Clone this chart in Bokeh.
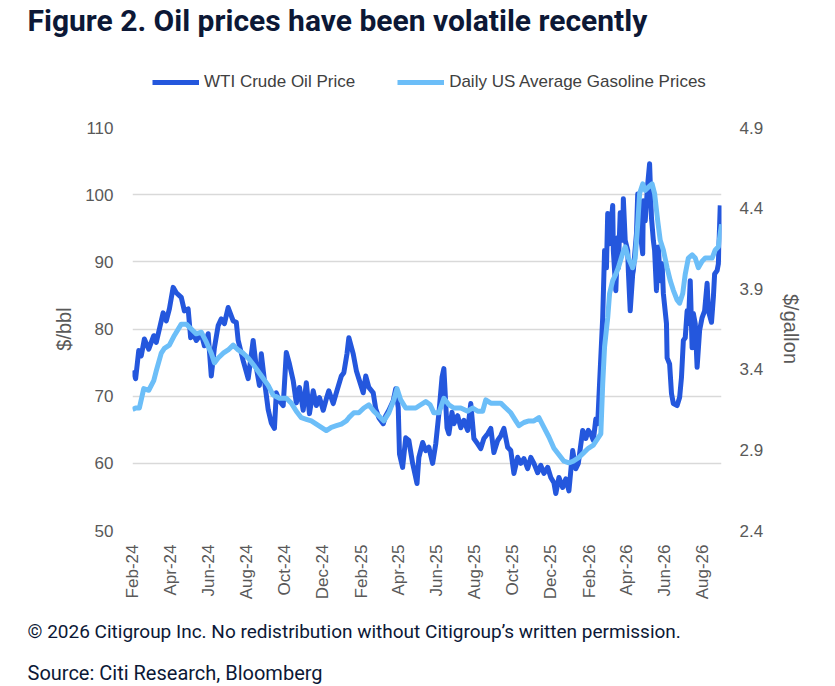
import math
import pandas as pd
from bokeh.plotting import figure
from bokeh.layouts import column
from bokeh.models import (Range1d, LinearAxis, FixedTicker, DatetimeTickFormatter,
                          Legend, LegendItem, Title, ColumnDataSource)
from bokeh.embed import file_html
from bokeh.resources import INLINE

# ---------------- data ----------------
wti_dates = [
    "2024-02-01", "2024-02-06", "2024-02-11", "2024-02-15", "2024-02-20", "2024-02-27",
    "2024-03-06", "2024-03-10", "2024-03-15", "2024-03-21", "2024-03-26", "2024-03-31",
    "2024-04-06", "2024-04-11", "2024-04-19", "2024-04-24", "2024-04-30", "2024-05-04",
    "2024-05-08", "2024-05-13", "2024-05-21", "2024-05-26", "2024-06-01", "2024-06-06",
    "2024-06-11", "2024-06-17", "2024-06-22", "2024-06-27", "2024-07-03", "2024-07-11",
    "2024-07-16", "2024-07-19", "2024-07-27", "2024-08-04", "2024-08-12", "2024-08-17",
    "2024-08-22", "2024-08-25", "2024-08-30", "2024-09-05", "2024-09-10", "2024-09-15",
    "2024-09-18", "2024-09-23", "2024-09-29", "2024-10-04", "2024-10-09", "2024-10-15",
    "2024-10-20", "2024-10-25", "2024-10-31", "2024-11-05", "2024-11-10", "2024-11-16",
    "2024-11-21", "2024-11-26", "2024-12-02", "2024-12-07", "2024-12-11", "2024-12-18",
    "2024-12-23", "2024-12-31", "2025-01-04", "2025-01-09", "2025-01-12", "2025-01-19",
    "2025-01-24", "2025-01-28", "2025-02-04", "2025-02-08", "2025-02-13", "2025-02-20",
    "2025-02-24", "2025-03-01", "2025-03-08", "2025-03-12", "2025-03-17", "2025-03-24",
    "2025-03-28", "2025-04-01", "2025-04-03", "2025-04-08", "2025-04-13", "2025-04-18",
    "2025-04-24", "2025-05-01", "2025-05-04", "2025-05-10", "2025-05-15", "2025-05-20",
    "2025-05-26", "2025-05-31", "2025-06-05", "2025-06-10", "2025-06-13", "2025-06-18",
    "2025-06-21", "2025-06-26", "2025-06-29", "2025-07-05", "2025-07-10", "2025-07-15",
    "2025-07-21", "2025-07-26", "2025-07-31", "2025-08-06", "2025-08-11", "2025-08-16",
    "2025-08-22", "2025-08-27", "2025-09-01", "2025-09-07", "2025-09-12", "2025-09-17",
    "2025-09-23", "2025-09-28", "2025-10-03", "2025-10-09", "2025-10-14", "2025-10-19",
    "2025-10-25", "2025-10-30", "2025-11-04", "2025-11-10", "2025-11-15", "2025-11-20",
    "2025-11-26", "2025-12-01", "2025-12-06", "2025-12-09", "2025-12-14", "2025-12-20",
    "2025-12-25", "2025-12-30", "2026-01-05", "2026-01-10", "2026-01-14", "2026-01-21",
    "2026-01-26", "2026-01-30", "2026-02-03", "2026-02-07", "2026-02-11", "2026-02-14",
    "2026-02-17", "2026-02-22", "2026-02-25", "2026-02-28", "2026-03-02", "2026-03-05",
    "2026-03-10", "2026-03-11", "2026-03-15", "2026-03-18", "2026-03-19", "2026-03-22",
    "2026-03-26", "2026-03-27", "2026-03-30", "2026-04-03", "2026-04-04", "2026-04-07",
    "2026-04-11", "2026-04-12", "2026-04-17", "2026-04-19", "2026-04-22", "2026-04-27",
    "2026-04-28", "2026-05-01", "2026-05-05", "2026-05-08", "2026-05-11", "2026-05-14",
    "2026-05-16", "2026-05-19", "2026-05-22", "2026-05-25", "2026-05-28", "2026-05-30",
    "2026-06-04", "2026-06-05", "2026-06-09", "2026-06-12", "2026-06-15", "2026-06-21",
    "2026-06-25", "2026-06-28", "2026-07-01", "2026-07-04", "2026-07-07", "2026-07-09",
    "2026-07-12", "2026-07-15", "2026-07-17", "2026-07-20", "2026-07-23", "2026-07-27",
    "2026-07-31", "2026-08-04", "2026-08-08", "2026-08-10", "2026-08-15", "2026-08-18",
    "2026-08-20", "2026-08-24", "2026-08-26", "2026-08-29",
]
wti_values = [
    73.8, 72.6, 76.8, 76.0, 78.5, 77.0,
    79.0, 78.0, 80.0, 82.4, 81.2, 83.0,
    86.2, 85.4, 84.7, 82.7, 83.0, 78.7,
    79.3, 78.3, 79.3, 77.5, 79.3, 73.0,
    77.2, 80.5, 81.5, 80.8, 83.2, 81.2,
    81.0, 78.3, 75.3, 72.6, 78.3, 74.3,
    71.6, 76.3, 72.3, 68.0, 66.0, 65.2,
    70.5, 69.3, 68.6, 76.5, 74.8, 72.3,
    69.0, 71.3, 67.9, 72.0, 67.4, 70.8,
    68.6, 69.8, 67.9, 69.6, 70.8, 68.9,
    70.5, 73.0, 73.5, 76.3, 78.7, 76.3,
    73.8, 72.6, 70.5, 73.0, 71.3, 70.5,
    68.1, 66.8, 65.9, 67.1, 67.9, 69.3,
    71.1, 68.3, 61.4, 59.4, 63.8, 63.4,
    60.0, 57.0, 60.9, 63.1, 61.9, 62.4,
    60.0, 62.9, 67.4, 72.8, 74.1, 65.3,
    64.4, 67.6, 65.9, 67.1, 65.3, 66.4,
    64.9, 68.9, 63.7, 62.9, 62.2, 63.7,
    64.4, 65.2, 61.6, 63.4, 64.1, 65.2,
    62.4, 61.9, 58.5, 60.9, 60.0, 60.7,
    59.2, 60.9, 60.0, 58.6, 59.7, 58.5,
    59.4, 57.9, 57.1, 55.5, 57.9, 56.4,
    57.7, 55.9, 61.9, 59.2, 60.0, 64.9,
    63.7, 64.9, 64.4, 63.4, 66.6, 65.9,
    71.9, 81.7, 91.7, 89.1, 97.2, 92.7,
    98.4, 91.7, 85.7, 93.6, 89.1, 97.3,
    93.2, 99.4, 93.2, 91.7, 88.7, 82.7,
    88.2, 88.7, 94.2, 100.1, 95.1, 91.2,
    99.1, 96.1, 101.6, 104.6, 96.6, 93.2,
    91.7, 85.7, 92.2, 87.2, 89.7, 85.3,
    80.8, 75.7, 74.8, 70.4, 68.9, 68.6,
    69.8, 72.8, 78.3, 78.7, 82.7, 80.8,
    87.2, 77.2, 82.3, 80.8, 74.3, 79.8,
    81.7, 82.7, 86.8, 82.7, 81.0, 84.7,
    88.2, 88.7, 89.7, 98.4,
]

gas_dates = [
    "2024-02-01", "2024-02-06", "2024-02-12", "2024-02-19", "2024-02-27", "2024-03-06",
    "2024-03-10", "2024-03-18", "2024-03-23", "2024-03-31", "2024-04-08", "2024-04-19",
    "2024-04-27", "2024-05-05", "2024-05-13", "2024-05-21", "2024-05-29", "2024-06-06",
    "2024-06-11", "2024-06-17", "2024-06-25", "2024-07-03", "2024-07-11", "2024-07-19",
    "2024-07-27", "2024-08-04", "2024-08-14", "2024-08-25", "2024-09-05", "2024-09-13",
    "2024-09-23", "2024-10-04", "2024-10-12", "2024-10-20", "2024-10-28", "2024-11-05",
    "2024-11-13", "2024-11-21", "2024-11-29", "2024-12-07", "2024-12-15", "2024-12-23",
    "2024-12-31", "2025-01-08", "2025-01-12", "2025-01-20", "2025-01-28", "2025-02-05",
    "2025-02-13", "2025-02-21", "2025-03-01", "2025-03-09", "2025-03-17", "2025-03-25",
    "2025-03-30", "2025-04-05", "2025-04-13", "2025-04-21", "2025-04-29", "2025-05-07",
    "2025-05-15", "2025-05-22", "2025-05-28", "2025-06-05", "2025-06-13", "2025-06-21",
    "2025-06-29", "2025-07-10", "2025-07-21", "2025-07-29", "2025-08-06", "2025-08-14",
    "2025-08-19", "2025-08-27", "2025-09-04", "2025-09-12", "2025-09-20", "2025-09-28",
    "2025-10-06", "2025-10-11", "2025-10-19", "2025-10-27", "2025-11-04", "2025-11-12",
    "2025-11-20", "2025-11-28", "2025-12-06", "2025-12-14", "2025-12-22", "2025-12-30",
    "2026-01-06", "2026-01-14", "2026-01-22", "2026-01-30", "2026-02-07", "2026-02-19",
    "2026-02-22", "2026-02-25", "2026-03-02", "2026-03-05", "2026-03-10", "2026-03-15",
    "2026-03-19", "2026-03-26", "2026-03-30", "2026-04-04", "2026-04-11", "2026-04-15",
    "2026-04-19", "2026-04-22", "2026-04-27", "2026-05-01", "2026-05-06", "2026-05-12",
    "2026-05-16", "2026-05-21", "2026-05-25", "2026-05-30", "2026-06-05", "2026-06-10",
    "2026-06-15", "2026-06-21", "2026-06-25", "2026-06-30", "2026-07-04", "2026-07-09",
    "2026-07-15", "2026-07-20", "2026-07-25", "2026-07-31", "2026-08-05", "2026-08-10",
    "2026-08-16", "2026-08-21", "2026-08-26", "2026-08-31",
]
gas_values = [
    3.15, 3.16, 3.16, 3.28, 3.27, 3.33,
    3.39, 3.50, 3.53, 3.55, 3.61, 3.68,
    3.68, 3.65, 3.62, 3.63, 3.57, 3.50,
    3.44, 3.47, 3.50, 3.52, 3.55, 3.52,
    3.50, 3.47, 3.42, 3.36, 3.30, 3.24,
    3.22, 3.22, 3.19, 3.14, 3.10, 3.09,
    3.08, 3.06, 3.04, 3.02, 3.04, 3.05,
    3.06, 3.08, 3.10, 3.13, 3.13, 3.16,
    3.18, 3.14, 3.11, 3.08, 3.13, 3.21,
    3.28, 3.21, 3.16, 3.16, 3.16, 3.18,
    3.20, 3.18, 3.13, 3.13, 3.22, 3.18,
    3.16, 3.16, 3.14, 3.16, 3.14, 3.14,
    3.21, 3.19, 3.19, 3.19, 3.16, 3.13,
    3.08, 3.05, 3.07, 3.08, 3.08, 3.10,
    3.04, 2.98, 2.91, 2.87, 2.83, 2.82,
    2.83, 2.85, 2.88, 2.91, 2.93, 3.00,
    3.31, 3.54, 3.72, 3.87, 3.95, 3.99,
    4.03, 4.12, 4.16, 4.09, 4.03, 4.09,
    4.30, 4.49, 4.55, 4.51, 4.53, 4.55,
    4.49, 4.32, 4.20, 4.14, 4.03, 3.95,
    3.89, 3.83, 3.81, 3.87, 3.99, 4.09,
    4.11, 4.09, 4.03, 4.07, 4.09, 4.09,
    4.09, 4.14, 4.16, 4.30,
]

xtick_dates = ["2024-02-01", "2024-04-01", "2024-06-01", "2024-08-01", "2024-10-01",
               "2024-12-01", "2025-02-01", "2025-04-01", "2025-06-01", "2025-08-01",
               "2025-10-01", "2025-12-01", "2026-02-01", "2026-04-01", "2026-06-01",
               "2026-08-01"]
left_ticks = [50, 60, 70, 80, 90, 100, 110]
right_ticks = [2.4, 2.9, 3.4, 3.9, 4.4, 4.9]
x_start, x_end = "2024-02-01", "2026-08-31"

title_text = "Figure 2. Oil prices have been volatile recently"
wti_name = "WTI Crude Oil Price"
gas_name = "Daily US Average Gasoline Prices"
footer1 = "\u00a9 2026 Citigroup Inc. No redistribution without Citigroup\u2019s written permission."
footer2 = "Source: Citi Research, Bloomberg"

# ---------------- styles ----------------
NAVY = "#0c1836"
GREY = "#595959"
DARK = "#2457DD"
LIGHT = "#6CBEF8"
FONT = "Liberation Sans"
TFONT = "Roboto"
W = 821          # page width used by both parts
HEAD_H = 110     # height of the heading strip (title + legend)
LW = 5
BORDER_L = 132
BORDER_R = W - 132 - 589

# ---------------- heading strip: title + legend ----------------
head = figure(width=W, height=HEAD_H, output_backend="svg", toolbar_location=None,
              x_axis_location=None, y_axis_location=None, title=None,
              x_range=Range1d(0, 1), y_range=Range1d(0, 1),
              min_border_left=BORDER_L, min_border_right=BORDER_R,
              min_border_top=0, min_border_bottom=0)
head.outline_line_color = None
head.xgrid.grid_line_color = None
head.ygrid.grid_line_color = None
head.add_layout(Title(text=title_text, align="left", offset=27 - BORDER_L,
                      text_font=TFONT, text_font_size="30px", text_font_style="bold",
                      text_color=NAVY, standoff=0), "above")
k_wti = head.line([math.nan], [math.nan], line_color=DARK, line_width=LW)
k_gas = head.line([math.nan], [math.nan], line_color=LIGHT, line_width=LW)
legend = Legend(items=[LegendItem(label=wti_name, renderers=[k_wti]),
                       LegendItem(label=gas_name, renderers=[k_gas])],
                orientation="horizontal", location=(20, 18),
                glyph_width=47, glyph_height=20, label_height=20,
                label_standoff=5, spacing=42,
                label_text_font=FONT, label_text_font_size="17px",
                label_text_color="#404040", border_line_color=None,
                background_fill_alpha=0, margin=0, padding=0)
head.add_layout(legend, "center")

# ---------------- main chart ----------------
wti = ColumnDataSource(dict(x=pd.to_datetime(wti_dates), y=wti_values))
gas = ColumnDataSource(dict(x=pd.to_datetime(gas_dates), y=gas_values))

p = figure(frame_width=589, frame_height=403, x_axis_type="datetime",
           output_backend="svg", toolbar_location=None, title=None,
           min_border_left=BORDER_L, min_border_right=BORDER_R,
           min_border_top=127 - HEAD_H, min_border_bottom=10,
           x_range=Range1d(pd.Timestamp(x_start), pd.Timestamp(x_end)),
           y_range=Range1d(50, 110))
p.outline_line_color = None
p.extra_y_ranges = {"gas": Range1d(2.4, 4.9)}

r_wti = p.line("x", "y", source=wti, line_color=DARK, line_width=LW, line_join="round")
r_gas = p.line("x", "y", source=gas, line_color=LIGHT, line_width=LW, line_join="round",
               y_range_name="gas")

p.xgrid.grid_line_color = None
p.ygrid.grid_line_color = "#d9d9d9"
p.ygrid.grid_line_width = 1.5

xa = p.xaxis[0]
xa.ticker = FixedTicker(ticks=[pd.Timestamp(d).value / 1e6 for d in xtick_dates])
xa.formatter = DatetimeTickFormatter(days="%b-%y", months="%b-%y", years="%b-%y")
xa.major_label_orientation = math.pi / 2
xa.major_label_standoff = 14

ya = p.yaxis[0]
ya.ticker = FixedTicker(ticks=left_ticks)
ya.axis_label = "$/bbl"
ya.major_label_standoff = 19
ya.axis_label_standoff = 7

ra = LinearAxis(y_range_name="gas", ticker=FixedTicker(ticks=right_ticks),
                axis_label="$/gallon")
ra.major_label_standoff = 18
ra.axis_label_standoff = 14
p.add_layout(ra, "right")

for ax in (xa, ya, ra):
    ax.axis_line_color = None
    ax.major_tick_line_color = None
    ax.minor_tick_line_color = None
    ax.major_tick_out = 0
    ax.major_tick_in = 0
    ax.major_label_text_font = FONT
    ax.major_label_text_font_size = "17px"
    ax.major_label_text_color = GREY
    ax.axis_label_text_font = FONT
    ax.axis_label_text_font_size = "20px"
    ax.axis_label_text_font_style = "normal"
    ax.axis_label_text_color = GREY

f1 = Title(text=footer1, align="left", offset=27 - BORDER_L, text_font=TFONT,
           text_font_size="19px", text_font_style="normal", text_color=NAVY, standoff=31)
f2 = Title(text=footer2, align="left", offset=27 - BORDER_L, text_font=TFONT,
           text_font_size="20px", text_font_style="normal", text_color=NAVY, standoff=0)
p.add_layout(f1, "below")
p.add_layout(f2, "below")

open("out.html", "w").write(file_html(column(head, p, spacing=0), INLINE))
